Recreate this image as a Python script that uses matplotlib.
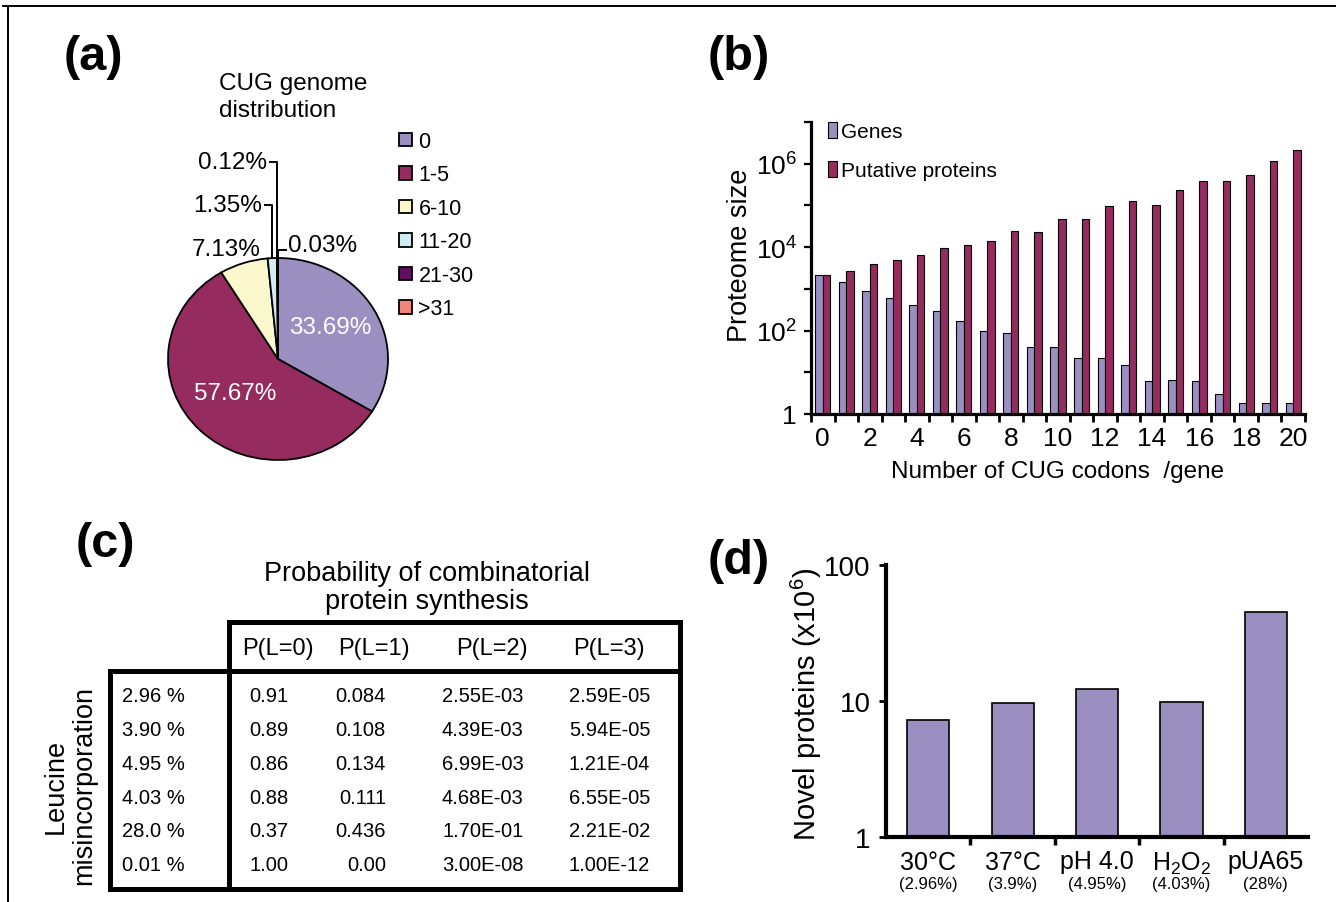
import numpy as np
import matplotlib
matplotlib.use("Agg")
import matplotlib.pyplot as plt
import matplotlib.transforms as mtransforms
from matplotlib.ticker import FixedLocator, NullLocator

plt.rcParams['font.family'] = ['Liberation Sans', 'DejaVu Sans']
plt.rcParams['mathtext.fontset'] = 'custom'
plt.rcParams['mathtext.rm'] = 'Liberation Sans'
plt.rcParams['mathtext.it'] = 'Liberation Sans:italic'
plt.rcParams['mathtext.bf'] = 'Liberation Sans:bold'

W, H = 1336, 903  # figure size in px

# ---- data -------------------------------------------------------------
# (a) CUG genome distribution
cug_classes = ['0', '1-5', '6-10', '11-20', '21-30', '>31']
cug_share = [33.69, 57.67, 7.13, 1.35, 0.12, 0.03]
cug_colors = ['#9b8ec1', '#952b5f', '#fcf8cd', '#d3ebf3', '#5e0f5e', '#f0857b']

# (b) proteome size vs number of CUG codons per gene
cug_per_gene = np.arange(21)
genes = [2100, 1450, 910, 600, 420, 290, 174, 100, 87, 41, 41,
         22, 22, 15, 6.3, 6.6, 6.3, 3.0, 1.8, 1.8, 1.8]
putative = [2100, 2750, 4000, 5000, 6650, 9500, 11000, 13700, 24000, 23000,
            47000, 47000, 96000, 129000, 104000, 229000, 380000, 380000,
            550000, 1.14e6, 2.17e6]

# (c) probability of combinatorial protein synthesis
misinc = ['2.96 %', '3.90 %', '4.95 %', '4.03 %', '28.0 %', '0.01 %']
p_headers = ['P(L=0)', 'P(L=1)', 'P(L=2)', 'P(L=3)']
p_l0 = ['0.91', '0.89', '0.86', '0.88', '0.37', '1.00']
p_l1 = ['0.084', '0.108', '0.134', '0.111', '0.436', '0.00']
p_l2 = ['2.55E-03', '4.39E-03', '6.99E-03', '4.68E-03', '1.70E-01', '3.00E-08']
p_l3 = ['2.59E-05', '5.94E-05', '1.21E-04', '6.55E-05', '2.21E-02', '1.00E-12']

# (d) novel proteins per condition
conditions = ['30°C', '37°C', 'pH 4.0', r'H$_\mathregular{2}$O$_\mathregular{2}$', 'pUA65']
cond_rate = ['(2.96%)', '(3.9%)', '(4.95%)', '(4.03%)', '(28%)']
novel = [7.2, 9.7, 12.3, 9.9, 45.5]


def box(l, t, r, b):
    """pixel box (left, top, right, bottom) -> figure fraction rect"""
    return [l / W, 1 - b / H, (r - l) / W, (b - t) / H]


fig = plt.figure(figsize=(W / 100, H / 100), dpi=100)

# overlay axes in pixel coords: frame, panel letters, table (c)
axc = fig.add_axes([0, 0, 1, 1])
axc.set_xlim(0, W)
axc.set_ylim(H, 0)
axc.axis('off')

axc.plot([3, W], [7, 7], color='black', lw=1.4)
axc.plot([8, 8], [7, H], color='black', lw=1.4)

for lab, x, y in [('(a)', 64, 57), ('(b)', 708, 57), ('(c)', 76, 545), ('(d)', 708, 562)]:
    axc.text(x, y, lab, fontsize=35, fontweight='bold', ha='left', va='center')

# ---- (a) pie ----------------------------------------------------------
PCX, PCY, RX, RY = 278, 360, 110, 101
pl, pt, pr, pb = 150, 130, 400, 472
axa = fig.add_axes(box(pl, pt, pr, pb))
wedges, _ = axa.pie(cug_share, colors=cug_colors, startangle=90, counterclock=False,
                    wedgeprops=dict(edgecolor='black', linewidth=1.3))
axa.set_aspect('auto')
axa.set_xlim((pl - PCX) / RX, (pr - PCX) / RX)
axa.set_ylim((PCY - pb) / RY, (PCY - pt) / RY)

tot = sum(cug_share)
ang = 90.0
mids = []
for s in cug_share:
    span = 360.0 * s / tot
    mids.append(np.deg2rad(ang - span / 2))
    ang -= span

pct = ['%.2f%%' % s for s in cug_share]
# inside labels
for i in (0, 1):
    axa.text(0.55 * np.cos(mids[i]), 0.55 * np.sin(mids[i]) + 0.05, pct[i], color='white',
             fontsize=17.5, ha='center', va='center')
# outside label for 6-10
axa.text(1.22 * np.cos(mids[2]) - 0.09, 1.15 * np.sin(mids[2]), pct[2], fontsize=17.5,
         ha='center', va='center')
# leader labels for the thin slices
for i, ylev, side in [(3, 1.52, -1), (4, 1.95, -1), (5, 1.08, 1)]:
    x0, y0 = np.cos(mids[i]), np.sin(mids[i])
    x1 = x0 + side * 0.07
    axa.plot([x0, x0, x1], [y0, ylev, ylev], color='black', lw=1.4, clip_on=False)
    axa.text(x1 + side * 0.02, ylev + (0.05 if side > 0 else 0), pct[i], fontsize=17.5,
             ha='left' if side > 0 else 'right', va='center', clip_on=False)

fig.text(219 / W, 1 - 73 / H, 'CUG genome\ndistribution', fontsize=17.5,
         ha='left', va='top', linespacing=1.3)
axa.legend(wedges, cug_classes, loc='upper left', bbox_to_anchor=(399 / W, 1 - 132 / H),
           bbox_transform=fig.transFigure, frameon=False, fontsize=15.5,
           handlelength=0.6, handleheight=0.6, handletextpad=0.3, labelspacing=0.58,
           borderpad=0, borderaxespad=0)

# ---- (b) proteome size ------------------------------------------------
bl, bt, br, bb = 811, 123, 1305, 415
axb = fig.add_axes(box(bl, bt, br, bb))
axb.set_yscale('log')
bw = 0.32
hg = axb.bar(cug_per_gene - bw / 2, genes, width=bw, color='#9b8ec1',
             edgecolor='black', linewidth=0.8, label='Genes')
hp = axb.bar(cug_per_gene + bw / 2, putative, width=bw, color='#952b5f',
             edgecolor='black', linewidth=0.8, label='Putative proteins')
axb.set_ylim(1, 1e7)
axb.set_xlim(-0.5, 20.5)
for sp in ('top', 'right'):
    axb.spines[sp].set_visible(False)
for sp in ('left', 'bottom'):
    axb.spines[sp].set_linewidth(2.3)
axb.yaxis.set_major_locator(FixedLocator(10.0 ** np.arange(8)))
axb.yaxis.set_minor_locator(NullLocator())
axb.set_yticklabels(['1', '', '10$^\\mathregular{2}$', '', '10$^\\mathregular{4}$', '',
                     '10$^\\mathregular{6}$', ''])
axb.tick_params(axis='y', which='major', length=5, width=1.6, labelsize=19, pad=5)
axb.set_xticks(cug_per_gene[::2])
axb.set_xticklabels([str(v) for v in cug_per_gene[::2]])
axb.xaxis.set_minor_locator(FixedLocator(np.arange(-0.5, 21, 1.0)))
axb.tick_params(axis='x', which='major', length=0, labelsize=19, pad=9)
axb.tick_params(axis='x', which='minor', length=6, width=2)
axb.set_ylabel('Proteome size', fontsize=19.5, va='center')
axb.yaxis.set_label_coords((740 - bl) / (br - bl), (bb - 255) / (bb - bt))
axb.set_xlabel('Number of CUG codons  /gene', fontsize=17.5, va='center')
axb.xaxis.set_label_coords(0.5, -(472 - bb) / (bb - bt))
axb.legend(handles=[hg, hp], loc='upper left', bbox_to_anchor=(0.035, 1.0),
           frameon=False, fontsize=15, handlelength=0.4, handleheight=0.8,
           handletextpad=0.2, labelspacing=0.95, borderpad=0, borderaxespad=0)

# ---- (c) table --------------------------------------------------------
TL, TC, TR = 110, 229, 680
TT, TM, TB = 623, 672, 890
tkw = dict(color='black', lw=3.6, solid_capstyle='projecting')
axc.plot([TC, TR], [TT, TT], **tkw)
axc.plot([TL, TR], [TM, TM], **tkw)
axc.plot([TL, TR], [TB, TB], **tkw)
axc.plot([TL, TL], [TM, TB], **tkw)
axc.plot([TC, TC], [TT, TB], **tkw)
axc.plot([TR, TR], [TT, TB], **tkw)

axc.text(427, 588, 'Probability of combinatorial\nprotein synthesis', fontsize=19.5,
         ha='center', va='center', linespacing=1.08)
axc.text(70, 786, 'Leucine\nmisincorporation', fontsize=19.5, rotation=90,
         ha='center', va='center', linespacing=1.1)
for hdr, x in zip(p_headers, [278, 374, 492, 609]):
    axc.text(x, 649, hdr, fontsize=17, ha='center', va='center')
row_y = 697 + 33.7 * np.arange(len(misinc))
cols = [(p_l0, 269, 'center'), (p_l1, 386, 'right'), (p_l2, 442, 'left'), (p_l3, 569, 'left')]
for r, y in enumerate(row_y):
    axc.text(122, y, misinc[r], fontsize=14.5, ha='left', va='center')
    for vals, x, ha in cols:
        axc.text(x, y, vals[r], fontsize=14.5, ha=ha, va='center')

# ---- (d) novel proteins -----------------------------------------------
dl, dt, dr, db = 886, 566, 1308, 838
axd = fig.add_axes(box(dl, dt, dr, db))
axd.set_yscale('log')
xd = np.arange(len(conditions))
axd.bar(xd, novel, width=0.5, color='#9b8ec1', edgecolor='black', linewidth=1.2)
axd.set_ylim(1, 100)
axd.set_xlim(-0.5, len(conditions) - 0.5)
for sp in ('top', 'right'):
    axd.spines[sp].set_visible(False)
for sp in ('left', 'bottom'):
    axd.spines[sp].set_linewidth(3)
axd.yaxis.set_major_locator(FixedLocator([1, 10, 100]))
axd.yaxis.set_minor_locator(NullLocator())
axd.set_yticklabels(['1', '10', '100'])
axd.tick_params(axis='y', length=5, width=2, labelsize=20, pad=6)
axd.set_xticks(xd)
axd.set_xticklabels(conditions)
axd.xaxis.set_minor_locator(FixedLocator(np.arange(0.5, len(conditions) - 1, 1.0)))
axd.tick_params(axis='x', which='major', length=0, labelsize=18, pad=9)
axd.tick_params(axis='x', which='minor', length=6, width=2.5)
trans = mtransforms.blended_transform_factory(axd.transData, axd.transAxes)
for i, lab in enumerate(cond_rate):
    axd.text(i, -(884 - db) / (db - dt), lab, transform=trans, fontsize=12,
             ha='center', va='center')
axd.set_ylabel('Novel proteins (x10$^\\mathregular{6}$)', fontsize=21, va='center')
axd.yaxis.set_label_coords((806 - dl) / (dr - dl), (db - 704) / (db - dt))

fig.savefig('out.png', dpi=100)
